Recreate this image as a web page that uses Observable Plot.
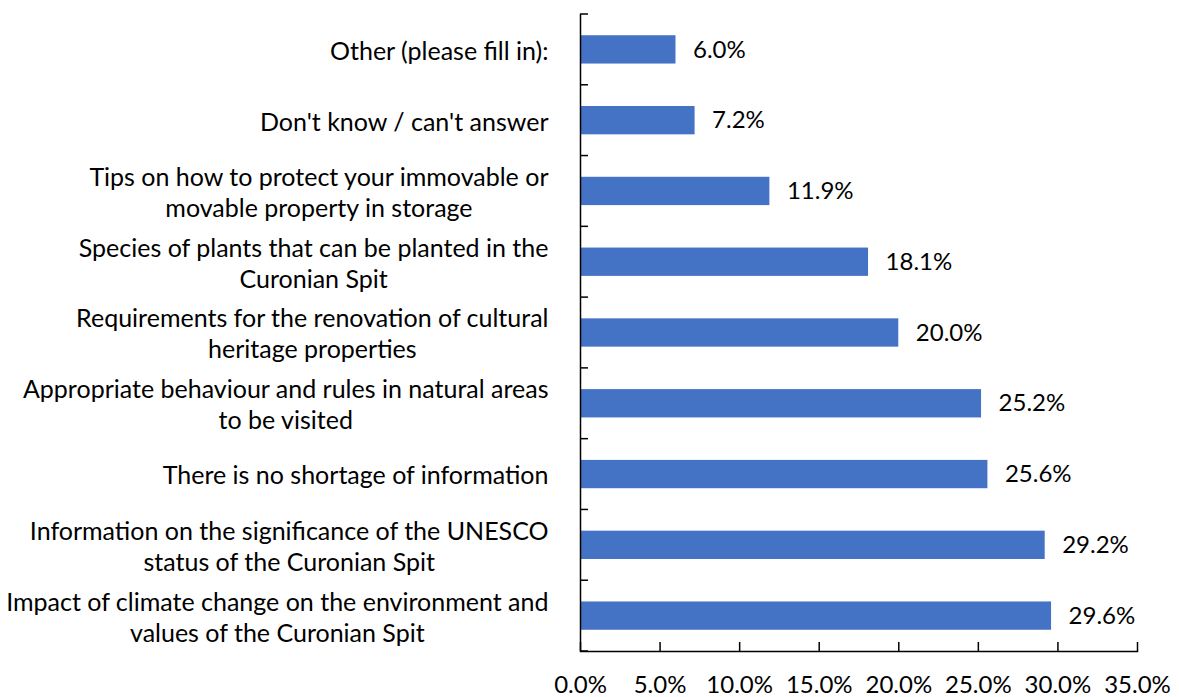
<!DOCTYPE html>
<html>
<head>
<meta charset="utf-8">
<script src="https://cdn.jsdelivr.net/npm/d3@7"></script>
<script src="https://cdn.jsdelivr.net/npm/@observablehq/plot@0.6"></script>
<style>
  html, body { margin: 0; padding: 0; background: #fff; }
</style>
</head>
<body>
<div id="chart"></div>
<script>
const categories = [
  "Other (please fill in):",
  "Don't know / can't answer",
  "Tips on how to protect your immovable or\nmovable property in storage",
  "Species of plants that can be planted in the\nCuronian Spit",
  "Requirements for the renovation of cultural\nheritage properties",
  "Appropriate behaviour and rules in natural areas\nto be visited",
  "There is no shortage of information",
  "Information on the significance of the UNESCO\nstatus of the Curonian Spit",
  "Impact of climate change on the environment and\nvalues of the Curonian Spit"
];
const values = [6.0, 7.2, 11.9, 18.1, 20.0, 25.2, 25.6, 29.2, 29.6];
const xTicks = [0, 5, 10, 15, 20, 25, 30, 35];

const data = categories.map((c, i) => ({category: c, value: values[i]}));
const FONT = "Lato, 'Open Sans', sans-serif";
const FS = 25;
const NFS = 24;

const chart = Plot.plot({
  width: 1179,
  height: 697,
  marginLeft: 580,
  marginRight: 42,
  marginTop: 14,
  marginBottom: 46,
  style: {fontFamily: FONT, fontSize: FS + "px", color: "#000", background: "#fff", overflow: "visible"},
  x: {domain: [0, 35], ticks: xTicks},
  y: {domain: categories, paddingInner: 0.6, paddingOuter: 0.3, round: false},
  marks: [
    Plot.barX(data, {x: "value", y: "category", fill: "#4472C4"}),
    Plot.text(data, {x: "value", y: "category", text: d => d.value.toFixed(1) + "%", textAnchor: "start", dx: 17, fontSize: NFS, fill: "#000"}),
    Plot.axisY({tickSize: 0, tickPadding: 32, fontSize: FS, lineHeight: 1.24, label: null, lineWidth: 100}),
    Plot.axisX({ticks: xTicks, tickSize: 0, tickPadding: 24, fontSize: NFS, tickFormat: d => d.toFixed(1) + "%", label: null}),
    Plot.axisX({ticks: xTicks, tickSize: -9, text: null, label: null, strokeWidth: 1.5, stroke: "#000"}),
    Plot.ruleX([0], {stroke: "#000", strokeWidth: 1.5}),
    Plot.frame({anchor: "bottom", stroke: "#000", strokeWidth: 1.5})
  ]
});

document.getElementById("chart").appendChild(chart);

// band-boundary ticks on the y axis (inside), using the plot's y scale
const ys = chart.scale("y");
const xs = chart.scale("x");
const step = ys.step;
const bw = ys.bandwidth;
const x0 = xs.apply(0);
const bounds = categories.map(c => ys.apply(c) - (step - bw) / 2);
bounds.push(bounds[bounds.length - 1] + step);
const svg = d3.select(chart);
svg.append("g")
  .selectAll("line")
  .data(bounds)
  .join("line")
  .attr("x1", x0)
  .attr("x2", x0 + 8)
  .attr("y1", d => d)
  .attr("y2", d => d)
  .attr("stroke", "#000")
  .attr("stroke-width", 1.5);

// center wrapped label lines relative to each other, block right-aligned
svg.selectAll('g[aria-label="y-axis tick label"] text').each(function() {
  const t = d3.select(this);
  const spans = t.selectAll("tspan");
  if (spans.size() < 2) return;
  let maxW = 0;
  spans.each(function() { maxW = Math.max(maxW, this.getComputedTextLength()); });
  t.attr("text-anchor", "middle");
  spans.attr("x", -maxW / 2);
});
</script>
</body>
</html>
